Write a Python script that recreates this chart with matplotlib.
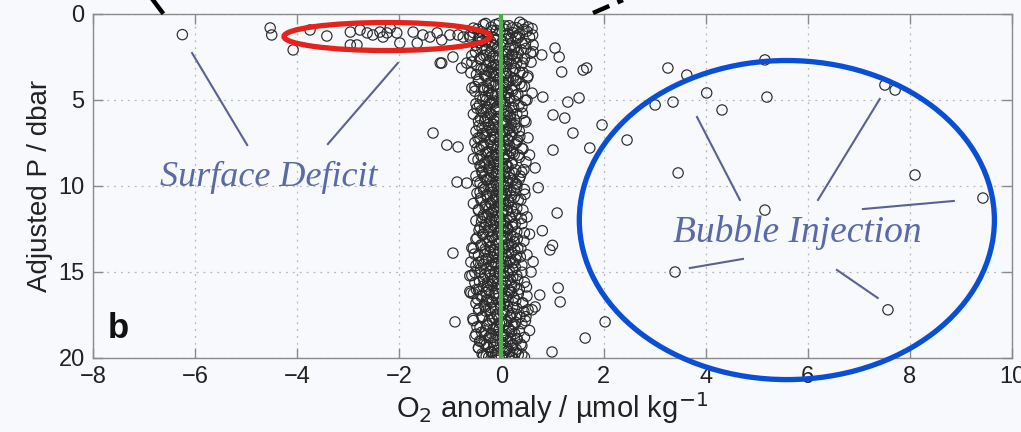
import matplotlib
matplotlib.use("Agg")
import matplotlib.pyplot as plt
from matplotlib.patches import Ellipse
from matplotlib.lines import Line2D

# ---------------- data ----------------
# dense cluster around zero, first set
core_y = [
    0.62, 0.55, 0.68, 0.60,
    0.82, 0.76, 0.88, 0.80, 0.85,
    1.02, 0.95, 1.08, 1.00,
    1.22, 1.15, 1.25, 1.18,
    1.42, 1.38, 1.46, 1.40, 1.35,
    1.62, 1.58, 1.66,
    1.82, 1.78, 1.86, 1.80,
    2.02, 1.96, 2.08, 2.00,
    2.22, 2.18, 2.25,
    2.42, 2.38, 2.46, 2.40,
    2.62, 2.55, 2.66, 2.60,
    2.82, 2.78, 2.86, 2.80,
    3.02, 2.96, 3.05, 3.00,
    3.22, 3.18, 3.26,
    3.42, 3.38, 3.45, 3.40,
    3.62, 3.56, 3.66, 3.60,
    3.82, 3.78, 3.85,
    4.02, 3.96, 4.06,
    4.22, 4.18, 4.26, 4.20,
    4.42, 4.36, 4.46,
    4.62, 4.58, 4.66, 4.60,
    4.82, 4.76, 4.86,
    5.02, 4.98, 5.06, 5.00,
    5.22, 5.16, 5.25,
    5.42, 5.38, 5.46, 5.40,
    5.62, 5.56, 5.66,
    5.82, 5.78, 5.86, 5.80,
    6.02, 5.96, 6.05,
    6.22, 6.18, 6.26, 6.20,
    6.42, 6.36, 6.46,
    6.62, 6.58, 6.66,
    6.82, 6.76, 6.86, 6.80,
    7.02, 6.98, 7.06,
    7.22, 7.16, 7.26, 7.20,
    7.42, 7.38, 7.46,
    7.62, 7.56, 7.66,
    7.82, 7.78, 7.86, 7.80,
    8.02, 7.96, 8.06,
    8.22, 8.18, 8.26, 8.20,
    8.42, 8.36, 8.46,
    8.62, 8.58, 8.66, 8.60,
    8.82, 8.76, 8.86,
    9.02, 8.98, 9.06,
    9.22, 9.16, 9.26, 9.20,
    9.42, 9.38, 9.46,
    9.62, 9.56, 9.66, 9.60,
    9.82, 9.78, 9.86,
    10.02, 9.96, 10.06,
    10.22, 10.18, 10.26, 10.20,
    10.42, 10.36, 10.46,
    10.62, 10.58, 10.66,
    10.82, 10.76, 10.86, 10.80,
    11.02, 10.98, 11.06,
    11.22, 11.16, 11.26,
    11.42, 11.38, 11.46, 11.40,
    11.62, 11.56, 11.66,
    11.82, 11.78, 11.86, 11.80,
    12.02, 11.96, 12.06,
    12.22, 12.18, 12.26, 12.20,
    12.42, 12.36, 12.46,
    12.62, 12.58, 12.66,
    12.82, 12.76, 12.86, 12.80,
    13.02, 12.98, 13.06,
    13.22, 13.16, 13.26, 13.20,
    13.42, 13.38, 13.46,
    13.62, 13.56, 13.66, 13.60,
    13.82, 13.78, 13.86,
    14.02, 13.96, 14.06, 14.00,
    14.22, 14.18, 14.26,
    14.42, 14.36, 14.46, 14.40,
    14.62, 14.58, 14.66, 14.60,
    14.82, 14.76, 14.86,
    15.02, 14.98, 15.06, 15.00,
    15.22, 15.16, 15.26, 15.20,
    15.42, 15.38, 15.46,
    15.62, 15.56, 15.66, 15.60,
    15.82, 15.78, 15.86,
    16.02, 15.96, 16.06, 16.00,
    16.22, 16.18, 16.26, 16.20,
    16.42, 16.36, 16.46, 16.40,
    16.62, 16.58, 16.66,
    16.82, 16.76, 16.86, 16.80,
    17.02, 16.98, 17.06,
    17.22, 17.16, 17.26, 17.20,
    17.42, 17.38, 17.46,
    17.62, 17.56, 17.66, 17.60,
    17.82, 17.78, 17.86,
    18.02, 17.96, 18.06, 18.00,
    18.22, 18.18, 18.26,
    18.42, 18.36, 18.46, 18.40,
    18.62, 18.58, 18.66,
    18.82, 18.76, 18.86, 18.80,
    19.02, 18.98, 19.06,
    19.22, 19.16, 19.26, 19.20,
    19.42, 19.38, 19.46,
    19.62, 19.56, 19.66,
    19.82, 19.76, 19.86, 19.80,
    19.95, 19.92, 19.97,
]
core_x = [
    -0.35, -0.05, 0.15, 0.42,
    -0.55, -0.20, 0.05, 0.30, 0.60,
    -0.40, -0.10, 0.22, 0.50,
    -0.62, -0.28, 0.08, 0.35,
    -0.45, -0.15, 0.12, 0.28, 0.55,
    -0.30, 0.02, 0.40,
    -0.50, -0.18, 0.18, 0.62,
    -0.38, -0.08, 0.25, 0.48,
    -0.22, 0.10, 0.33,
    -0.58, -0.30, -0.05, 0.20,
    -0.42, -0.12, 0.15, 0.45,
    -0.25, 0.05, 0.30, 0.58,
    -0.48, -0.15, 0.10, 0.38,
    -0.35, -0.02, 0.22,
    -0.60, -0.20, 0.08, 0.42,
    -0.30, -0.10, 0.18, 0.52,
    -0.45, -0.05, 0.28,
    -0.25, 0.12, 0.36,
    -0.52, -0.15, 0.05, 0.45,
    -0.35, -0.02, 0.22,
    -0.20, 0.10, 0.32, 0.60,
    -0.42, -0.12, 0.15,
    -0.30, 0.00, 0.25, 0.50,
    -0.50, -0.18, 0.08,
    -0.28, -0.08, 0.20, 0.40,
    -0.40, -0.10, 0.12,
    -0.55, -0.22, 0.05, 0.30,
    -0.32, -0.05, 0.18,
    -0.45, -0.15, 0.10, 0.45,
    -0.25, 0.02, 0.26,
    -0.38, -0.12, 0.15,
    -0.50, -0.20, 0.06, 0.35,
    -0.30, -0.02, 0.20,
    -0.42, -0.15, 0.12, 0.52,
    -0.22, 0.05, 0.30,
    -0.35, -0.08, 0.16,
    -0.48, -0.18, 0.10, 0.40,
    -0.28, 0.00, 0.22,
    -0.40, -0.12, 0.14, 0.33,
    -0.55, -0.22, 0.05,
    -0.32, -0.05, 0.20, 0.48,
    -0.42, -0.15, 0.10,
    -0.25, 0.02, 0.28,
    -0.38, -0.10, 0.15, 0.40,
    -0.50, -0.20, 0.06,
    -0.30, -0.02, 0.22, 0.35,
    -0.42, -0.12, 0.12,
    -0.22, 0.05, 0.30,
    -0.35, -0.08, 0.18, 0.45,
    -0.48, -0.18, 0.08,
    -0.28, 0.00, 0.25,
    -0.40, -0.10, 0.14, 0.38,
    -0.55, -0.22, 0.04,
    -0.32, -0.05, 0.20,
    -0.45, -0.15, 0.10, 0.42,
    -0.25, 0.02, 0.28,
    -0.38, -0.10, 0.16, 0.50,
    -0.50, -0.20, 0.06,
    -0.30, -0.02, 0.22, 0.40,
    -0.42, -0.12, 0.12,
    -0.22, 0.05, 0.30,
    -0.35, -0.08, 0.18, 0.55,
    -0.48, -0.18, 0.08,
    -0.28, 0.00, 0.25, 0.44,
    -0.40, -0.10, 0.14,
    -0.55, -0.22, 0.05, 0.32,
    -0.32, -0.05, 0.20,
    -0.45, -0.15, 0.10, 0.50,
    -0.25, 0.02, 0.28,
    -0.60, -0.38, -0.10, 0.16,
    -0.50, -0.20, 0.06, 0.40,
    -0.30, -0.02, 0.22,
    -0.42, -0.12, 0.12, 0.58,
    -0.62, -0.22, 0.05, 0.30,
    -0.35, -0.08, 0.18,
    -0.52, -0.18, 0.08, 0.45,
    -0.28, 0.00, 0.25,
    -0.45, -0.10, 0.14, 0.35,
    -0.60, -0.30, -0.05, 0.20,
    -0.40, -0.15, 0.10, 0.50,
    -0.25, 0.02, 0.28,
    -0.50, -0.20, 0.06, 0.42,
    -0.32, -0.02, 0.22,
    -0.45, -0.12, 0.12, 0.60,
    -0.22, 0.05, 0.30,
    -0.38, -0.08, 0.18, 0.48,
    -0.55, -0.18, 0.08,
    -0.28, 0.00, 0.25, 0.40,
    -0.42, -0.10, 0.14,
    -0.32, -0.05, 0.20, 0.55,
    -0.50, -0.20, 0.06,
    -0.25, 0.02, 0.30, 0.45,
    -0.40, -0.12, 0.12,
    -0.30, -0.02, 0.22, 0.38,
    -0.45, -0.15, 0.08,
    -0.20, 0.05, 0.28,
    -0.35, -0.08, 0.15, 0.40,
    -0.25, 0.00, 0.20,
]

# dense cluster around zero, second set
core2_y = [
    0.55, 0.70, 0.62, 0.48, 0.75,   0.88, 0.95, 0.81, 1.02, 0.90,
    1.15, 1.31, 1.22, 1.08, 1.27,   1.48, 1.39, 1.56, 1.44, 1.60,
    1.72, 1.85, 1.66, 1.79, 1.93,   2.05, 1.98, 2.14, 2.21, 2.09,
    2.33, 2.41, 2.28, 2.47, 2.36,   2.58, 2.66, 2.52, 2.71, 2.63,
    2.88, 2.79, 2.95, 2.84, 3.01,   3.12, 3.06, 3.21, 3.17, 3.27,
    3.39, 3.33, 3.47, 3.52, 3.42,   3.66, 3.58, 3.74, 3.70, 3.61,
    3.93, 3.85, 4.01, 3.97, 3.88,   4.18, 4.12, 4.26, 4.22, 4.31,
    4.45, 4.38, 4.53, 4.49, 4.57,   4.72, 4.65, 4.79, 4.83, 4.69,
    4.98, 4.91, 5.06, 5.02, 5.11,   5.25, 5.19, 5.33, 5.29, 5.38,
    5.51, 5.45, 5.58, 5.62, 5.48,   5.77, 5.71, 5.84, 5.88, 5.74,
    6.04, 5.97, 6.11, 6.07, 6.15,   6.31, 6.24, 6.37, 6.42, 6.28,
    6.57, 6.50, 6.64, 6.61, 6.69,   6.83, 6.77, 6.90, 6.95, 6.80,
    7.09, 7.03, 7.16, 7.12, 7.21,   7.36, 7.29, 7.42, 7.47, 7.33,
    7.62, 7.55, 7.69, 7.66, 7.74,   7.88, 7.82, 7.95, 8.00, 7.85,
    8.14, 8.08, 8.21, 8.17, 8.26,   8.41, 8.34, 8.47, 8.52, 8.38,
    8.67, 8.60, 8.74, 8.71, 8.79,   8.93, 8.87, 9.00, 9.05, 8.90,
    9.19, 9.13, 9.26, 9.22, 9.31,   9.46, 9.39, 9.52, 9.57, 9.43,
    9.72, 9.65, 9.79, 9.76, 9.84,   9.98, 9.92, 10.05, 10.10, 9.95,
    10.24, 10.18, 10.31, 10.27, 10.36,   10.51, 10.44, 10.57, 10.62, 10.48,
    10.77, 10.70, 10.84, 10.81, 10.89,   11.03, 10.97, 11.10, 11.15, 11.00,
    11.29, 11.23, 11.36, 11.32, 11.41,   11.56, 11.49, 11.62, 11.67, 11.53,
    11.82, 11.75, 11.89, 11.86, 11.94,   12.08, 12.02, 12.15, 12.20, 12.05,
    12.34, 12.28, 12.41, 12.37, 12.46,   12.61, 12.54, 12.67, 12.72, 12.58,
    12.87, 12.80, 12.94, 12.91, 12.99,   13.13, 13.07, 13.20, 13.25, 13.10,
    13.39, 13.33, 13.46, 13.42, 13.51,   13.66, 13.59, 13.72, 13.77, 13.63,
    13.92, 13.85, 13.99, 13.96, 14.04,   14.18, 14.12, 14.25, 14.30, 14.15,
    14.44, 14.38, 14.51, 14.47, 14.56,   14.71, 14.64, 14.77, 14.82, 14.68,
    14.97, 14.90, 15.04, 15.01, 15.09,   15.23, 15.17, 15.30, 15.35, 15.20,
    15.49, 15.43, 15.56, 15.52, 15.61,   15.76, 15.69, 15.82, 15.87, 15.73,
    16.02, 15.95, 16.09, 16.06, 16.14,   16.28, 16.22, 16.35, 16.40, 16.25,
    16.54, 16.48, 16.61, 16.57, 16.66,   16.81, 16.74, 16.87, 16.92, 16.78,
    17.07, 17.00, 17.14, 17.11, 17.19,   17.33, 17.27, 17.40, 17.45, 17.30,
    17.59, 17.53, 17.66, 17.62, 17.71,   17.86, 17.79, 17.92, 17.97, 17.83,
    18.12, 18.05, 18.19, 18.16, 18.24,   18.38, 18.32, 18.45, 18.50, 18.35,
    18.64, 18.58, 18.71, 18.67, 18.76,   18.91, 18.84, 18.97, 19.02, 18.88,
    19.17, 19.10, 19.24, 19.21, 19.29,   19.43, 19.37, 19.50, 19.55, 19.40,
    19.69, 19.63, 19.76, 19.72, 19.81,   19.93, 19.88, 19.97, 19.90, 19.95,
]
core2_x = [
    -0.31, 0.07, -0.12, 0.36, 0.52,   -0.47, -0.18, 0.21, -0.03, 0.44,
    0.12, -0.26, 0.61, -0.55, 0.29,   -0.09, 0.33, -0.38, 0.18, -0.21,
    0.47, -0.14, -0.44, 0.03, 0.26,   -0.29, 0.15, -0.06, -0.51, 0.39,
    0.08, -0.35, 0.57, -0.17, 0.22,   -0.42, -0.04, 0.31, -0.23, 0.11,
    0.19, -0.58, -0.11, 0.42, -0.30,   -0.19, 0.05, -0.40, 0.27, -0.07,
    0.36, -0.25, 0.10, -0.49, -0.13,   -0.02, -0.33, 0.23, 0.51, -0.16,
    -0.45, 0.14, -0.21, 0.04, 0.30,   0.09, -0.11, -0.36, 0.40, -0.27,
    -0.24, 0.20, 0.01, -0.52, 0.13,   0.28, -0.08, -0.31, 0.06, -0.18,
    -0.37, 0.16, -0.14, 0.47, -0.01,   0.03, -0.22, 0.34, -0.43, -0.09,
    -0.12, 0.24, -0.29, 0.09, -0.48,   0.41, -0.05, -0.20, 0.17, -0.35,
    -0.27, 0.11, -0.10, -0.41, 0.26,   0.05, -0.33, 0.19, -0.15, 0.48,
    -0.06, -0.44, 0.29, -0.23, 0.12,   0.22, -0.17, 0.02, -0.37, -0.28,
    -0.32, 0.08, -0.13, 0.36, -0.46,   0.14, -0.21, -0.04, -0.52, 0.31,
    -0.16, 0.27, -0.39, 0.06, -0.08,   -0.43, -0.02, 0.18, -0.26, 0.42,
    0.10, -0.30, -0.11, 0.25, -0.19,   -0.08, 0.35, -0.46, -0.24, 0.04,
    0.21, -0.14, -0.34, 0.09, -0.03,   -0.25, 0.13, -0.07, 0.44, -0.40,
    0.07, -0.38, 0.24, -0.18, -0.10,   -0.34, -0.06, 0.16, -0.22, 0.37,
    0.12, -0.27, -0.01, -0.47, 0.28,   -0.15, 0.30, -0.36, 0.05, -0.09,
    0.25, -0.20, -0.05, 0.10, -0.42,   -0.29, 0.02, 0.19, -0.12, 0.46,
    0.04, -0.41, -0.17, 0.33, -0.07,   -0.20, 0.15, -0.31, 0.08, -0.02,
    0.30, -0.09, -0.45, -0.24, 0.12,   -0.11, 0.22, 0.01, -0.35, -0.19,
    0.17, -0.28, 0.39, -0.04, -0.14,   -0.39, -0.10, 0.06, 0.27, -0.23,
    0.09, -0.16, -0.33, 0.21, -0.01,   -0.26, 0.13, -0.06, 0.45, -0.44,
    0.02, -0.37, 0.23, -0.18, 0.10,   -0.13, 0.31, -0.24, 0.07, -0.50,
    0.19, -0.05, -0.40, 0.11, -0.21,   -0.32, 0.04, 0.26, -0.15, 0.38,
    0.14, -0.22, -0.08, -0.53, 0.29,   -0.06, 0.37, -0.30, 0.18, -0.17,
    -0.45, 0.08, -0.12, 0.24, -0.35,   0.27, -0.19, 0.03, -0.41, -0.07,
    -0.24, 0.15, -0.52, 0.40, -0.02,   0.06, -0.33, 0.22, -0.14, -0.58,
    -0.16, 0.32, -0.43, 0.11, -0.27,   0.20, -0.07, -0.36, 0.49, -0.21,
    -0.49, 0.01, 0.17, -0.25, -0.62,   0.33, -0.12, -0.38, 0.09, -0.55,
    -0.08, 0.24, -0.29, -0.47, 0.13,   0.41, -0.18, 0.05, -0.34, -0.03,
    -0.21, 0.12, -0.44, 0.30, 0.52,   0.02, -0.31, 0.21, -0.09, 0.44,
    -0.37, 0.18, -0.14, 0.36, -0.56,   0.10, -0.24, 0.28, -0.04, 0.47,
    -0.28, 0.06, -0.48, 0.23, -0.11,   0.15, -0.16, 0.35, -0.39, -0.05,
    -0.10, 0.26, -0.32, 0.04, -0.52,   0.31, -0.21, 0.09, -0.43, 0.18,
    -0.34, 0.02, -0.15, 0.22, 0.40,   0.11, -0.26, 0.29, -0.07, -0.45,
    -0.19, 0.16, -0.38, 0.05, 0.33,   0.07, -0.12, 0.22, -0.30, 0.45,
]

# surface-deficit points (negative anomaly near the surface)
deficit_x = [-6.25, -4.53, -4.50, -4.08, -3.75, -3.42, -2.96, -2.96, -2.83,
             -2.77, -2.63, -2.52, -2.38, -2.32, -2.24, -2.18, -2.05, -1.99,
             -1.73, -1.65, -1.54, -1.40, -1.26, -1.17, -1.01, -0.85, -0.75,
             -0.62, -0.42, -1.17, -0.95, -0.68, -1.20, -0.78, -0.58,
             -1.34, -1.07, -0.85, -0.87, -0.68, -0.95, -0.58, -0.91]
deficit_y = [1.20, 0.81, 1.22, 2.09, 0.93, 1.28, 1.05, 1.80, 1.80,
             0.93, 1.10, 1.22, 1.05, 1.34, 1.10, 0.81, 1.10, 1.69,
             1.05, 1.69, 1.22, 1.34, 1.10, 1.51, 1.22, 1.22, 1.34,
             1.34, 1.40, 2.85, 2.50, 2.85, 2.85, 3.14, 4.30,
             6.92, 7.62, 7.73, 9.77, 9.83, 13.90, 13.60, 17.90]

# bubble-injection points (positive anomaly)
bubble_x = [1.05, 1.13, 0.79, 0.62, 1.18, 1.60, 1.67, 0.81, 1.30, 1.52,
            1.01, 1.24, 1.97, 1.40, 2.46, 1.73, 1.01, 0.66, 3.26, 3.63,
            4.02, 3.36, 3.01, 4.32, 5.16, 5.20, 7.51, 7.71, 3.46, 8.10,
            9.43, 5.16, 1.09, 0.95, 3.40, 7.57, 1.11, 1.15, 0.75, 0.66,
            2.03, 1.64, 0.99, 1.00, 0.62, 0.80, 0.55, 0.72]
bubble_y = [1.98, 2.50, 2.38, 2.20, 3.37, 3.26, 3.14, 4.83, 5.12, 4.88,
            5.87, 6.05, 6.45, 6.92, 7.33, 7.79, 7.91, 8.95, 3.14, 3.55,
            4.59, 5.12, 5.29, 5.58, 2.67, 4.83, 4.13, 4.42, 9.24, 9.36,
            10.70, 11.40, 11.57, 13.72, 15.00, 17.20, 15.93, 16.74, 16.34, 17.03,
            17.90, 18.84, 19.65, 13.45, 14.40, 12.60, 8.20, 10.10]

x_ticks = [-8, -6, -4, -2, 0, 2, 4, 6, 8, 10]
x_tick_labels = ["\u22128", "\u22126", "\u22124", "\u22122", "0", "2", "4", "6", "8", "10"]
y_ticks = [0, 5, 10, 15, 20]

# ---------------- figure ----------------
BG = "#f7f9fc"
fig = plt.figure(figsize=(10.21, 4.32), dpi=100, facecolor=BG)
ax = fig.add_axes([0.0911, 0.1713, 0.9001, 0.7963], facecolor=BG)

mk = dict(s=55, facecolors="none", edgecolors="#2b2b2b", linewidths=0.85, zorder=3)
ax.scatter(core_x, core_y, **mk)
ax.scatter(core2_x, core2_y, **mk)
ax.scatter(deficit_x, deficit_y, **mk)
ax.scatter(bubble_x, bubble_y, **mk)

ax.axvline(0, color="#4cae4c", lw=3.0, zorder=4)

ax.set_xlim(-8, 10)
ax.set_ylim(20, 0)
ax.set_xticks(x_ticks)
ax.set_yticks(y_ticks)
ax.set_xticklabels(x_tick_labels)
ax.grid(True, color="#b5b8bd", ls=(0, (1.5, 4)), lw=0.9, zorder=0)

for s in ax.spines.values():
    s.set_color("#8a8a8a")
    s.set_linewidth(1.0)
ax.tick_params(direction="in", length=7, width=1.0, color="#8a8a8a",
               top=True, right=True, labelsize=17, pad=6,
               labelfontfamily="Liberation Sans", labelcolor="#222222")

ax.set_ylabel("Adjusted P / dbar", fontsize=20, family="Liberation Sans", color="#222222", labelpad=4)
ax.set_xlabel("O$_2$ anomaly / \u00b5mol kg$^{-1}$", fontsize=21, family="Liberation Sans",
              color="#222222", labelpad=1)

ax.text(-7.72, 18.3, "b", fontsize=25, fontweight="bold", family="Liberation Sans",
        color="#111111", ha="left", va="center")

# annotations
ann_col = "#5a6aa6"
ax.text(-4.55, 9.5, "Surface Deficit", fontsize=26, style="italic", family="Liberation Serif",
        color=ann_col, ha="center", va="center", zorder=5)
ax.text(5.8, 12.7, "Bubble Injection", fontsize=27, style="italic", family="Liberation Serif",
        color=ann_col, ha="center", va="center", zorder=5)

line_col = "#5b6190"
ann_lines = [((-6.06, -4.98), (2.27, 7.62)),
             ((-2.03, -3.40), (2.85, 7.56)),
             ((3.83, 4.67), (5.99, 10.81)),
             ((7.41, 6.20), (4.94, 10.81)),
             ((7.08, 8.86), (11.34, 10.87)),
             ((3.69, 4.73), (14.77, 14.24)),
             ((6.57, 7.37), (14.88, 16.51))]
for xs, ys in ann_lines:
    ax.plot(xs, ys, color=line_col, lw=1.5, zorder=5)

ax.add_patch(Ellipse((-2.24, 1.31), 4.04, 1.63, fill=False, edgecolor="#e5221b",
                     lw=3.8, zorder=6, clip_on=False))
ax.add_patch(Ellipse((5.59, 11.98), 8.13, 18.55, fill=False, edgecolor="#0a4ed6",
                     lw=3.8, zorder=6, clip_on=False))

# black marks above the panel (figure pixel coordinates)
W, H = 1021.0, 432.0
fig.add_artist(Line2D([153 / W, 162 / W], [1 - 0 / H, 1 - 12 / H], color="black", lw=3.2,
                      transform=fig.transFigure))
fig.add_artist(Line2D([593 / W, 623 / W], [1 - 13 / H, 1 - 0 / H], color="black", lw=3.2,
                      ls=(0, (4, 2)), transform=fig.transFigure))

fig.savefig("out.png", dpi=100, facecolor=BG)
